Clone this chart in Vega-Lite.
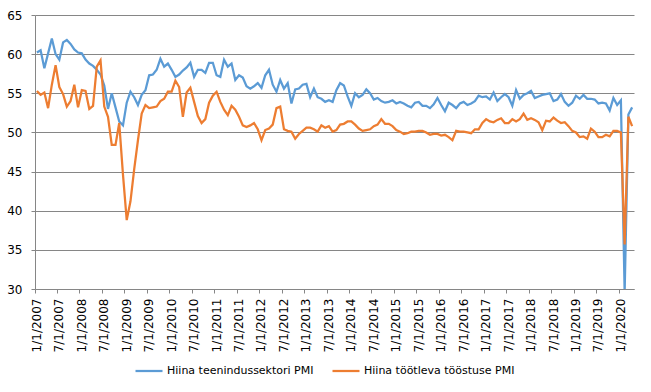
{
  "$schema": "https://vega.github.io/schema/vega-lite/v6.json",
  "autosize": {"type": "none"},
  "padding": {"left": 35, "top": 15, "right": 17, "bottom": 103},
  "width": 599,
  "height": 274,
  "background": "#ffffff",
  "datasets": {
    "pmi": [
      {"d":"2007-01","s":60.2,"m":55.3},{"d":"2007-02","s":60.5,"m":54.8},{"d":"2007-03","s":58.2,"m":55.1},{"d":"2007-04","s":60.1,"m":53.1},{"d":"2007-05","s":62.0,"m":56.1},{"d":"2007-06","s":60.0,"m":58.6},{"d":"2007-07","s":59.3,"m":55.8},{"d":"2007-08","s":61.5,"m":54.9},{"d":"2007-09","s":61.8,"m":53.3},{"d":"2007-10","s":61.3,"m":54.0},{"d":"2007-11","s":60.6,"m":56.1},{"d":"2007-12","s":60.2,"m":53.2},
      {"d":"2008-01","s":60.1,"m":55.4},{"d":"2008-02","s":59.3,"m":55.3},{"d":"2008-03","s":58.8,"m":53.0},{"d":"2008-04","s":58.5,"m":53.4},{"d":"2008-05","s":58.0,"m":58.4},{"d":"2008-06","s":57.4,"m":59.2},{"d":"2008-07","s":56.0,"m":53.3},{"d":"2008-08","s":53.0,"m":52.0},{"d":"2008-09","s":55.0,"m":48.4},{"d":"2008-10","s":53.2,"m":48.4},{"d":"2008-11","s":51.4,"m":51.2},{"d":"2008-12","s":50.9,"m":44.6},
      {"d":"2009-01","s":53.8,"m":38.8},{"d":"2009-02","s":55.2,"m":41.2},{"d":"2009-03","s":54.5,"m":45.3},{"d":"2009-04","s":53.5,"m":49.0},{"d":"2009-05","s":54.8,"m":52.4},{"d":"2009-06","s":55.4,"m":53.5},{"d":"2009-07","s":57.3,"m":53.1},{"d":"2009-08","s":57.4,"m":53.2},{"d":"2009-09","s":58.0,"m":53.3},{"d":"2009-10","s":59.4,"m":54.0},{"d":"2009-11","s":58.4,"m":54.3},{"d":"2009-12","s":58.8,"m":55.2},
      {"d":"2010-01","s":58.0,"m":55.2},{"d":"2010-02","s":57.1,"m":56.6},{"d":"2010-03","s":57.4,"m":55.8},{"d":"2010-04","s":57.9,"m":52.0},{"d":"2010-05","s":58.3,"m":55.1},{"d":"2010-06","s":58.9,"m":55.7},{"d":"2010-07","s":57.1,"m":53.9},{"d":"2010-08","s":58.0,"m":52.1},{"d":"2010-09","s":58.0,"m":51.2},{"d":"2010-10","s":57.6,"m":51.7},{"d":"2010-11","s":58.9,"m":53.8},{"d":"2010-12","s":58.9,"m":54.7},
      {"d":"2011-01","s":57.3,"m":55.2},{"d":"2011-02","s":57.1,"m":53.9},{"d":"2011-03","s":59.3,"m":52.9},{"d":"2011-04","s":58.4,"m":52.2},{"d":"2011-05","s":58.8,"m":53.4},{"d":"2011-06","s":56.7,"m":52.9},{"d":"2011-07","s":57.3,"m":52.0},{"d":"2011-08","s":57.0,"m":50.9},{"d":"2011-09","s":55.9,"m":50.7},{"d":"2011-10","s":55.6,"m":50.9},{"d":"2011-11","s":55.9,"m":51.2},{"d":"2011-12","s":56.3,"m":50.4},
      {"d":"2012-01","s":55.7,"m":49.0},{"d":"2012-02","s":57.3,"m":50.3},{"d":"2012-03","s":58.0,"m":50.5},{"d":"2012-04","s":56.1,"m":51.0},{"d":"2012-05","s":55.2,"m":53.1},{"d":"2012-06","s":56.7,"m":53.3},{"d":"2012-07","s":55.6,"m":50.4},{"d":"2012-08","s":56.3,"m":50.2},{"d":"2012-09","s":53.7,"m":50.1},{"d":"2012-10","s":55.5,"m":49.2},{"d":"2012-11","s":55.6,"m":49.8},{"d":"2012-12","s":56.1,"m":50.2},
      {"d":"2013-01","s":56.2,"m":50.6},{"d":"2013-02","s":54.5,"m":50.6},{"d":"2013-03","s":55.6,"m":50.4},{"d":"2013-04","s":54.5,"m":50.1},{"d":"2013-05","s":54.3,"m":50.9},{"d":"2013-06","s":53.9,"m":50.6},{"d":"2013-07","s":54.1,"m":50.8},{"d":"2013-08","s":53.9,"m":50.1},{"d":"2013-09","s":55.4,"m":50.3},{"d":"2013-10","s":56.3,"m":51.0},{"d":"2013-11","s":56.0,"m":51.1},{"d":"2013-12","s":54.6,"m":51.4},
      {"d":"2014-01","s":53.4,"m":51.4},{"d":"2014-02","s":55.0,"m":51.0},{"d":"2014-03","s":54.5,"m":50.5},{"d":"2014-04","s":54.8,"m":50.2},{"d":"2014-05","s":55.5,"m":50.3},{"d":"2014-06","s":55.0,"m":50.4},{"d":"2014-07","s":54.2,"m":50.8},{"d":"2014-08","s":54.4,"m":51.0},{"d":"2014-09","s":54.0,"m":51.7},{"d":"2014-10","s":53.8,"m":51.1},{"d":"2014-11","s":53.9,"m":51.1},{"d":"2014-12","s":54.1,"m":50.8},
      {"d":"2015-01","s":53.7,"m":50.3},{"d":"2015-02","s":53.9,"m":50.1},{"d":"2015-03","s":53.7,"m":49.8},{"d":"2015-04","s":53.4,"m":49.9},{"d":"2015-05","s":53.2,"m":50.1},{"d":"2015-06","s":53.8,"m":50.1},{"d":"2015-07","s":53.9,"m":50.2},{"d":"2015-08","s":53.4,"m":50.2},{"d":"2015-09","s":53.4,"m":50.0},{"d":"2015-10","s":53.1,"m":49.7},{"d":"2015-11","s":53.6,"m":49.8},{"d":"2015-12","s":54.4,"m":49.8},
      {"d":"2016-01","s":53.5,"m":49.6},{"d":"2016-02","s":52.7,"m":49.7},{"d":"2016-03","s":53.8,"m":49.4},{"d":"2016-04","s":53.5,"m":49.0},{"d":"2016-05","s":53.1,"m":50.2},{"d":"2016-06","s":53.7,"m":50.1},{"d":"2016-07","s":53.9,"m":50.1},{"d":"2016-08","s":53.5,"m":50.0},{"d":"2016-09","s":53.7,"m":49.9},{"d":"2016-10","s":54.0,"m":50.4},{"d":"2016-11","s":54.7,"m":50.4},{"d":"2016-12","s":54.5,"m":51.2},
      {"d":"2017-01","s":54.6,"m":51.7},{"d":"2017-02","s":54.2,"m":51.4},{"d":"2017-03","s":55.1,"m":51.3},{"d":"2017-04","s":54.0,"m":51.6},{"d":"2017-05","s":54.5,"m":51.8},{"d":"2017-06","s":54.9,"m":51.2},{"d":"2017-07","s":54.5,"m":51.2},{"d":"2017-08","s":53.4,"m":51.7},{"d":"2017-09","s":55.4,"m":51.4},{"d":"2017-10","s":54.3,"m":51.7},{"d":"2017-11","s":54.8,"m":52.4},{"d":"2017-12","s":55.0,"m":51.6},
      {"d":"2018-01","s":55.3,"m":51.8},{"d":"2018-02","s":54.4,"m":51.6},{"d":"2018-03","s":54.6,"m":51.3},{"d":"2018-04","s":54.8,"m":50.3},{"d":"2018-05","s":54.9,"m":51.5},{"d":"2018-06","s":55.0,"m":51.4},{"d":"2018-07","s":54.0,"m":51.9},{"d":"2018-08","s":54.2,"m":51.5},{"d":"2018-09","s":54.9,"m":51.2},{"d":"2018-10","s":53.9,"m":51.3},{"d":"2018-11","s":53.4,"m":50.8},{"d":"2018-12","s":53.8,"m":50.2},
      {"d":"2019-01","s":54.7,"m":50.0},{"d":"2019-02","s":54.3,"m":49.4},{"d":"2019-03","s":54.8,"m":49.5},{"d":"2019-04","s":54.3,"m":49.2},{"d":"2019-05","s":54.3,"m":50.5},{"d":"2019-06","s":54.2,"m":50.1},{"d":"2019-07","s":53.7,"m":49.4},{"d":"2019-08","s":53.8,"m":49.4},{"d":"2019-09","s":53.7,"m":49.7},{"d":"2019-10","s":52.8,"m":49.5},{"d":"2019-11","s":54.4,"m":50.2},{"d":"2019-12","s":53.5,"m":50.2},
      {"d":"2020-01","s":54.1,"m":50.0},{"d":"2020-02","s":29.6,"m":35.7},{"d":"2020-03","s":52.3,"m":52.0},{"d":"2020-04","s":53.2,"m":50.8}
    ]
  },
  "data": {"name": "pmi"},
  "transform": [{"fold": ["s", "m"], "as": ["series", "value"]}],
  "mark": {"type": "line", "strokeWidth": 2.25, "clip": true},
  "encoding": {
    "x": {
      "field": "d",
      "type": "ordinal",
      "bandPosition": 0.5,
      "scale": {"type": "band", "paddingInner": 0, "paddingOuter": 0},
      "axis": {
        "title": null,
        "values": ["2007-01","2007-07","2008-01","2008-07","2009-01","2009-07","2010-01","2010-07","2011-01","2011-07","2012-01","2012-07","2013-01","2013-07","2014-01","2014-07","2015-01","2015-07","2016-01","2016-07","2017-01","2017-07","2018-01","2018-07","2019-01","2019-07","2020-01"],
        "labelExpr": "toNumber(slice(datum.value, 5)) + '/1/' + slice(datum.value, 0, 4)",
        "bandPosition": 0,
        "labelAngle": 270,
        "labelAlign": "right",
        "labelBaseline": "middle",
        "labelPadding": 5,
        "tickSize": 4,
        "tickColor": "#868686",
        "domainColor": "#868686",
        "grid": false,
        "labelFont": "DejaVu Sans",
        "labelFontSize": 12,
        "labelColor": "#000000",
        "labelOverlap": false
      }
    },
    "y": {
      "field": "value",
      "type": "quantitative",
      "scale": {"domain": [30, 65], "nice": false, "zero": false},
      "axis": {
        "title": null,
        "values": [30, 35, 40, 45, 50, 55, 60, 65],
        "grid": true,
        "gridColor": "#868686",
        "domainColor": "#868686",
        "tickColor": "#868686",
        "tickSize": 4,
        "labelPadding": 9,
        "labelFont": "DejaVu Sans",
        "labelFontSize": 12,
        "labelColor": "#000000"
      }
    },
    "color": {
      "field": "series",
      "type": "nominal",
      "scale": {"domain": ["s", "m"], "range": ["#5B9BD5", "#ED7D31"]},
      "legend": {
        "orient": "none",
        "legendX": 99,
        "legendY": 341,
        "direction": "horizontal",
        "title": null,
        "symbolType": "stroke",
        "symbolStrokeWidth": 2.25,
        "symbolSize": 729,
        "labelExpr": "datum.value == 's' ? 'Hiina teenindussektori PMI' : 'Hiina töötleva tööstuse PMI'",
        "labelFont": "DejaVu Sans",
        "labelFontSize": 11,
        "labelColor": "#000000",
        "labelLimit": 300,
        "labelOffset": 3,
        "columnPadding": 14
      }
    }
  },
  "config": {"view": {"stroke": null}}
}
